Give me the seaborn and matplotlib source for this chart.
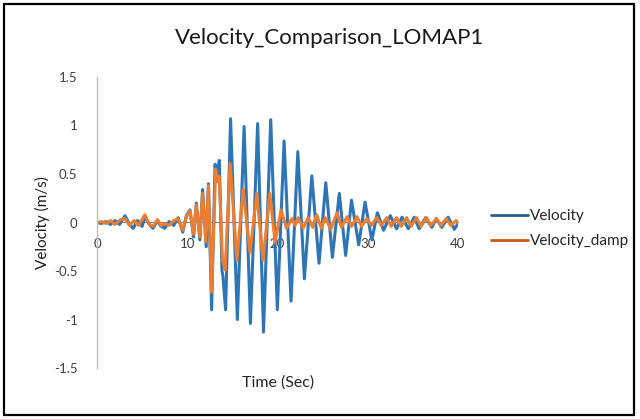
import matplotlib
matplotlib.use("Agg")
import matplotlib.pyplot as plt
import pandas as pd
import seaborn as sns
from matplotlib.patches import Rectangle

# ---------------- data ----------------
series_names = ["Velocity", "Velocity_damp"]

vel_time = [0.0, 0.5, 1.0, 1.5, 2.0, 2.5, 3.1, 3.6, 4.0, 4.5, 5.0, 5.3, 5.8, 6.2,
            6.7, 7.0, 7.5, 8.0, 8.5, 9.0, 9.5, 9.9, 10.3, 10.7, 11.0, 11.4, 11.7,
            12.1, 12.35, 12.7, 13.08, 13.3, 13.55, 13.85, 13.95, 14.25, 14.8,
            15.55, 16.3, 17.0, 17.8, 18.45, 19.25, 19.98, 20.73, 21.5, 22.25,
            22.98, 23.8, 24.6, 25.35, 26.08, 26.85, 27.55, 28.2, 29.0, 29.7,
            30.45, 31.07, 31.75, 32.5, 33.2, 33.8, 34.5, 35.15, 35.7, 36.4,
            37.1, 37.6, 38.2, 38.9, 39.6, 40.0]
vel_value = [0.0, -0.01, 0.01, -0.02, 0.02, -0.02, 0.07, -0.02, -0.06, 0.02, -0.04,
             0.06, -0.02, -0.06, 0.02, -0.03, -0.06, 0.01, -0.03, 0.05, -0.10, 0.07,
             0.13, -0.15, 0.20, -0.18, 0.34, -0.25, 0.40, -0.90, 0.60, 0.45, 0.64,
             -0.50, -0.55, -0.90, 1.07, -1.00, 0.99, -1.04, 1.02, -1.13, 1.06,
             -0.90, 0.84, -0.81, 0.73, -0.58, 0.48, -0.42, 0.41, -0.36, 0.30,
             -0.34, 0.23, -0.23, 0.21, -0.18, 0.10, -0.08, 0.07, -0.065, 0.055,
             -0.065, 0.055, -0.065, 0.05, -0.05, 0.04, -0.05, 0.055, -0.07, -0.01]

damp_time = [0.0, 0.5, 1.0, 1.5, 2.0, 2.6, 3.1, 3.6, 4.1, 4.6, 5.0, 5.3, 5.8, 6.2,
             6.7, 7.1, 7.6, 8.0, 8.5, 9.0, 9.5, 9.9, 10.3, 10.7, 11.0, 11.4, 11.7,
             12.05, 12.35, 12.7, 13.15, 13.4, 13.55, 13.9, 14.2, 14.75, 15.5,
             16.2, 16.95, 17.7, 18.4, 19.15, 19.73, 20.4, 21.0, 21.6, 21.95,
             22.3, 22.85, 23.4, 23.9, 24.35, 24.85, 25.3, 25.9, 26.6, 27.1, 27.7,
             28.2, 28.8, 29.3, 29.9, 30.4, 31.0, 31.5, 32.1, 32.6, 33.2, 33.7,
             34.3, 34.8, 35.4, 35.9, 36.5, 37.0, 37.6, 38.1, 38.7, 39.2, 39.8, 40.0]
damp_value = [0.0, 0.01, -0.01, 0.02, -0.02, 0.03, 0.04, -0.03, 0.02, -0.03, 0.03,
              0.08, -0.02, -0.04, 0.03, -0.03, -0.01, -0.03, 0.02, 0.04, -0.08, 0.06,
              0.12, -0.12, 0.18, -0.15, 0.30, -0.20, 0.38, -0.72, 0.55, 0.42, 0.48,
              -0.38, -0.49, 0.61, -0.39, 0.34, -0.31, 0.30, -0.39, 0.30, -0.20, 0.13,
              -0.06, 0.04, -0.03, 0.05, -0.06, 0.05, -0.05, 0.08, -0.06, 0.05, -0.07,
              0.10, -0.05, 0.06, -0.04, 0.06, -0.04, 0.04, -0.03, 0.05, -0.03, 0.05,
              -0.04, 0.05, -0.04, 0.05, -0.04, 0.05, -0.04, 0.05, -0.03, 0.04, -0.03,
              0.04, -0.03, 0.02, 0.0]

x_ticks = [0, 10, 20, 30, 40]
y_ticks = [-1.5, -1.0, -0.5, 0.0, 0.5, 1.0, 1.5]
y_tick_labels = ["-1.5", "-1", "-0.5", "0", "0.5", "1", "1.5"]

title_text = "Velocity_Comparison_LOMAP1"
x_label = "Time (Sec)"
y_label = "Velocity (m/s)"

colors = ["#2E75B6", "#ED7D31"]

# ---------------- plot ----------------
sns.set_theme(style="white")
plt.rcParams["font.family"] = ["Lato", "DejaVu Sans"]

df = pd.concat([
    pd.DataFrame({"Time": vel_time, "Value": vel_value, "Series": series_names[0]}),
    pd.DataFrame({"Time": damp_time, "Value": damp_value, "Series": series_names[1]}),
], ignore_index=True)

W, H = 640, 419
fig = plt.figure(figsize=(W / 100, H / 100), dpi=100)
fig.patch.set_facecolor("white")
fig.patches.append(Rectangle((4 / W, 4 / H), 630 / W, 411 / H, transform=fig.transFigure,
                             fill=False, edgecolor="black", linewidth=1.6, zorder=10))

ax = fig.add_axes([97 / W, 1 - 368 / H, (458 - 97) / W, (368 - 77) / H])
sns.lineplot(data=df, x="Time", y="Value", hue="Series", palette=colors,
             sort=False, estimator=None, linewidth=2.2, ax=ax, legend=True)
for ln in ax.get_lines():
    ln.set_solid_joinstyle("round")
    ln.set_solid_capstyle("round")

handles, labels = ax.get_legend_handles_labels()
ax.get_legend().remove()

ax.set_xlim(0, 40)
ax.set_ylim(-1.5, 1.5)
ax.set_xticks(x_ticks)
ax.set_xticklabels([str(t) for t in x_ticks])
ax.set_yticks(y_ticks)
ax.set_yticklabels(y_tick_labels)
ax.set_xlabel("")
ax.set_ylabel("")

ax.spines["top"].set_visible(False)
ax.spines["right"].set_visible(False)
ax.spines["bottom"].set_position(("data", 0))
ax.spines["bottom"].set_color("#868686")
ax.spines["bottom"].set_linewidth(0.8)
ax.spines["bottom"].set_zorder(0)
ax.spines["left"].set_color("#BFBFBF")
ax.spines["left"].set_linewidth(1.0)
ax.tick_params(axis="both", length=0, labelsize=9.5, labelcolor="#404040")
ax.tick_params(axis="x", pad=11)
ax.tick_params(axis="y", pad=14)
ax.patch.set_alpha(0)

fig.text(330 / W, 1 - 38 / H, title_text, ha="center", va="center",
         fontsize=16, color="#1a1a1a")
fig.text(278 / W, 1 - 383 / H, x_label, ha="center", va="center",
         fontsize=11.5, color="#262626")
fig.text(42 / W, 1 - 223 / H, y_label, ha="center", va="center",
         rotation=90, fontsize=11, color="#1a1a1a")

leg = fig.legend(handles, labels, loc="upper left",
                 bbox_to_anchor=(491 / W, 1 - 209 / H), frameon=False,
                 fontsize=11, handlelength=2.4, handletextpad=0.15,
                 labelspacing=0.75, borderpad=0, borderaxespad=0)
for t in leg.get_texts():
    t.set_color("#262626")
for lh, c in zip(leg.get_lines(), ["#255E91", "#C55A11"]):
    lh.set_linewidth(2.0)
    lh.set_color(c)

fig.savefig("out.png", dpi=100, facecolor="white")
